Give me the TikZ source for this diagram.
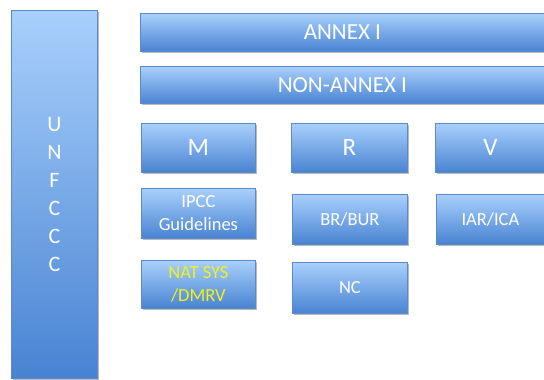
\documentclass[tikz,border=0pt]{standalone}
\usepackage{fontspec}
\setmainfont{Carlito}
\usetikzlibrary{shadows}
\definecolor{boxtop}{HTML}{A9D0FC}
\definecolor{boxbot}{HTML}{4883D2}
\definecolor{boxline}{HTML}{5A8ACB}
\definecolor{natyellow}{HTML}{F2F21A}
\tikzset{
    box/.style={rectangle, draw=boxline, line width=0.8pt, top color=boxtop, bottom color=boxbot,
        text=white, anchor=north west, inner sep=0pt, align=center,
        drop shadow={shadow xshift=1.5pt, shadow yshift=-1.5pt, fill=black!45, opacity=0.6}},
}
\begin{document}
\begin{tikzpicture}[x=1pt,y=-1pt]
    \useasboundingbox (0,0) rectangle (544,380);
    \clip (0,0) rectangle (544,380);
    % left column
    \node[box, minimum width=86pt, minimum height=368pt, font=\fontsize{22}{28}\selectfont]
        (unfccc) at (11,10) {U\\N\\F\\C\\C\\C};
    % annex bars
    \node[box, minimum width=415pt, minimum height=38pt, font=\fontsize{23}{26}\selectfont]
        (annex) at (140,13) {\hspace*{-11pt}ANNEX I};
    \node[box, minimum width=415pt, minimum height=37pt, font=\fontsize{23}{26}\selectfont]
        (nonannex) at (140,66) {\hspace*{-11pt}NON-ANNEX I};
    % M R V
    \node[box, minimum width=114pt, minimum height=49pt, font=\fontsize{25}{28}\selectfont]
        (m) at (141,123) {M};
    \node[box, minimum width=116pt, minimum height=49pt, font=\fontsize{25}{28}\selectfont]
        (r) at (291,123) {R};
    \node[box, minimum width=120pt, minimum height=49pt, font=\fontsize{25}{28}\selectfont]
        (v) at (435,123) {\hspace*{-10pt}V};
    % second row
    \node[box, minimum width=114pt, minimum height=50pt, font=\fontsize{18.5}{23}\selectfont]
        (ipcc) at (141,188) {IPCC\\Guidelines};
    \node[box, minimum width=115pt, minimum height=50pt, font=\fontsize{18.5}{23}\selectfont]
        (brbur) at (292,194) {BR/BUR};
    \node[box, minimum width=120pt, minimum height=50pt, font=\fontsize{18.5}{23}\selectfont]
        (iarica) at (436,194) {\hspace*{-12pt}IAR/ICA};
    % third row
    \node[box, minimum width=114pt, minimum height=48pt, font=\fontsize{18.5}{23}\selectfont, text=natyellow]
        (natsys) at (141,260) {NAT SYS\\/DMRV};
    \node[box, minimum width=115pt, minimum height=51pt, font=\fontsize{18.5}{23}\selectfont]
        (nc) at (292,262) {NC};
\end{tikzpicture}
\end{document}
